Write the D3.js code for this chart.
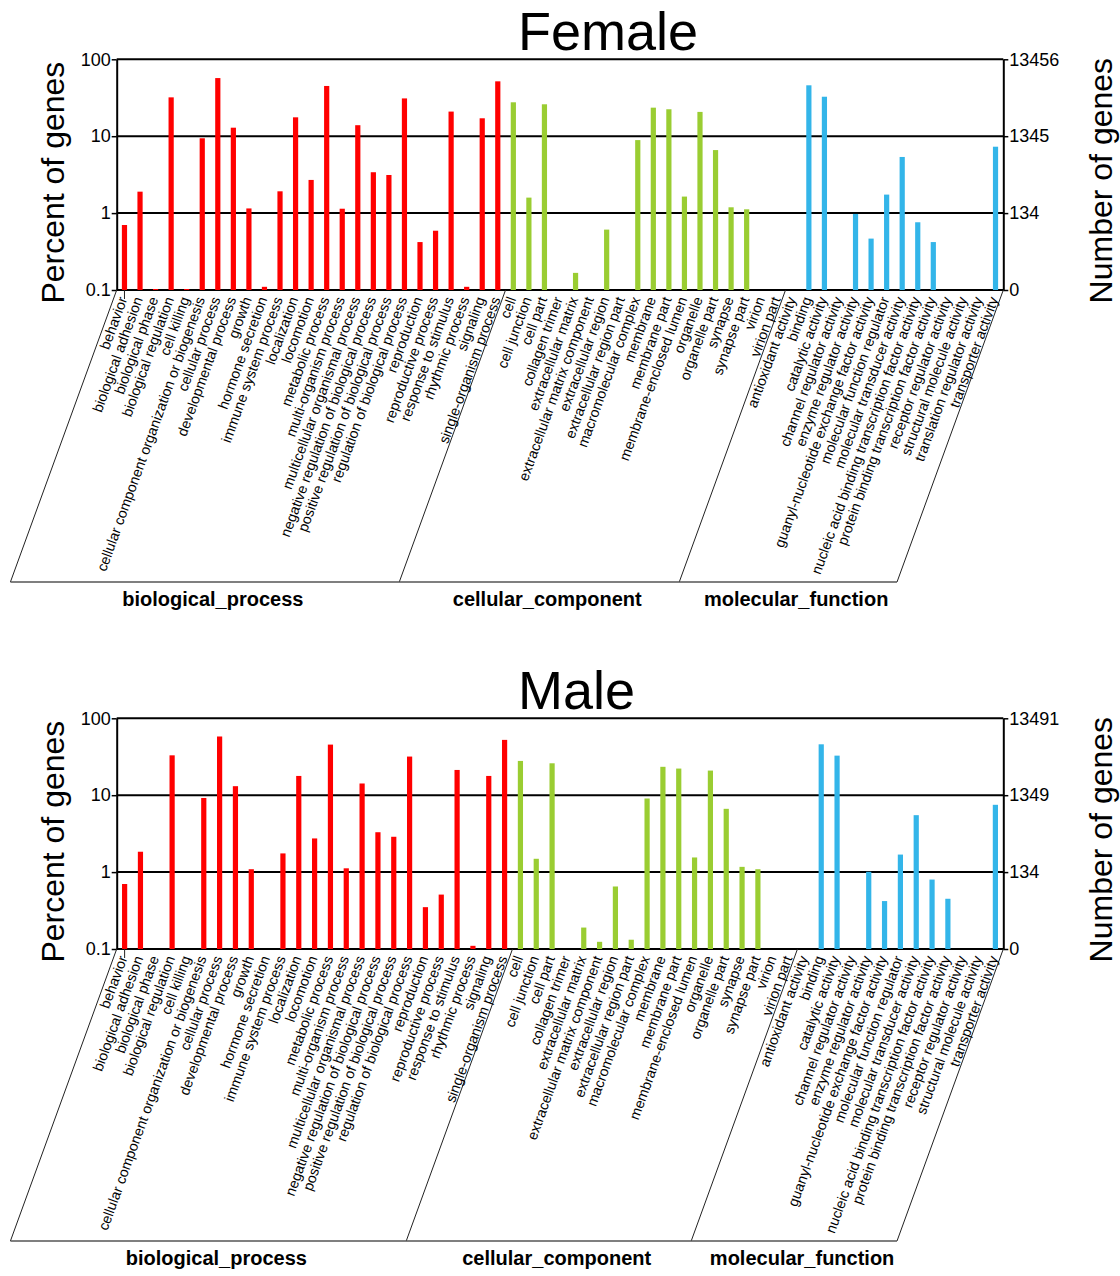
<!DOCTYPE html>
<html><head><meta charset="utf-8">
<script src="https://cdn.jsdelivr.net/npm/d3@7"></script>
<style>
body{margin:0;background:#fff}
svg{display:block}
text{font-family:"Liberation Sans",Arial,Helvetica,sans-serif;fill:#000}
</style>
</head><body>
<svg id="chart" width="1120" height="1276"></svg>
<script>
// ---------------- DATA ----------------
const groupNames = ["biological_process", "cellular_component", "molecular_function"];
const groupColors = ["#ff0000", "#9acd32", "#33b5e9"];

const bpCategories = ["behavior","biological adhesion","biological phase","biological regulation","cell killing",
  "cellular component organization or biogenesis","cellular process","developmental process","growth",
  "hormone secretion","immune system process","localization","locomotion","metabolic process",
  "multi-organism process","multicellular organismal process","negative regulation of biological process",
  "positive regulation of biological process","regulation of biological process","reproduction",
  "reproductive process","response to stimulus","rhythmic process","signaling","single-organism process"];
const ccCategories = ["cell","cell junction","cell part","collagen trimer","extracellular matrix",
  "extracellular matrix component","extracellular region","extracellular region part","macromolecular complex",
  "membrane","membrane part","membrane-enclosed lumen","organelle","organelle part","synapse","synapse part",
  "virion","virion part"];
const mfCategoriesFemale = ["antioxidant activity","binding","catalytic activity","channel regulator activity",
  "enzyme regulator activity","guanyl-nucleotide exchange factor activity","molecular function regulator",
  "molecular transducer activity","nucleic acid binding transcription factor activity",
  "protein binding transcription factor activity","receptor regulator activity","structural molecule activity",
  "translation regulator activity","transporter activity"];
const mfCategoriesMale = ["antioxidant activity","binding","catalytic activity","channel regulator activity",
  "enzyme regulator activity","guanyl-nucleotide exchange factor activity","molecular function regulator",
  "molecular transducer activity","nucleic acid binding transcription factor activity",
  "protein binding transcription factor activity","receptor regulator activity","structural molecule activity",
  "transporter activity"];

// percent of genes (0 = no bar)
const femaleBP = [0.70,1.90,0.103,32,0.103,9.4,57,12.9,1.15,0.11,1.92,17.6,2.7,45,1.14,13.9,3.4,3.13,31,0.42,0.59,20.9,0.11,17.1,51.7];
const femaleCC = [27.6,1.59,26,0,0.167,0,0.61,0,8.9,23.5,22.4,1.64,20.7,6.6,1.19,1.12,0,0];
const femaleMF = [0,45.9,32.6,0,0.975,0.466,1.74,5.37,0.76,0.42,0,0,0,7.3];

const maleBP = [0.70,1.84,0,33,0,9.2,58,13.1,1.09,0,1.75,17.8,2.74,45.5,1.12,14.2,3.3,2.88,31.8,0.35,0.51,21.3,0.11,17.8,52.4];
const maleCC = [27.9,1.49,26,0,0.19,0.124,0.65,0.132,9.06,23.4,22.2,1.55,20.9,6.65,1.17,1.09,0,0];
const maleMF = [0,45.9,32.7,0,1.01,0.42,1.69,5.5,0.80,0.45,0,0,7.5];

const percentTicks = [0.1, 1, 10, 100];
const percentTickLabels = ["0.1", "1", "10", "100"];
const femaleCountLabels = ["0", "134", "1345", "13456"];
const maleCountLabels = ["0", "134", "1349", "13491"];

const titles = ["Female", "Male"];

// ---------------- LAYOUT ----------------
const L = 116.7, R = 1003.3, T = 59.3, B = 290;
const labelDepth = 292;           // height of label band below axis
const angle = 70;                 // slant of labels / separators
const shear = -labelDepth / Math.tan(angle * Math.PI / 180);
const panelOffset = 659;

const svg = d3.select("#chart");

function drawPanel(idx, cats, vals, countLabels) {
  const g = svg.append("g").attr("transform", `translate(0,${idx * panelOffset})`);
  const items = [];
  cats.forEach((list, gi) => list.forEach((c, i) => items.push({cat: c, v: vals[gi][i], gi})));

  const x = d3.scaleBand().domain(items.map(d => d.cat)).range([L, R]).padding(0);
  const y = d3.scaleLog().domain([0.1, 100]).range([B, T]);
  const bw = x.bandwidth();

  // title
  g.append("text").attr("x", 518).attr("y", B - 240)
    .attr("font-size", 54).text(titles[idx]);

  // grid lines
  g.append("g").selectAll("line").data(percentTicks).join("line")
    .attr("x1", L).attr("x2", R).attr("y1", d => y(d)).attr("y2", d => y(d))
    .attr("stroke", "#000").attr("stroke-width", 2);

  // bars
  g.append("g").selectAll("rect").data(items.filter(d => d.v > 0)).join("rect")
    .attr("x", d => x(d.cat) + bw / 2 - 2.6)
    .attr("width", 5.2)
    .attr("y", d => y(d.v))
    .attr("height", d => B - y(d.v))
    .attr("fill", d => groupColors[d.gi]);

  // left axis
  const la = g.append("g").attr("transform", `translate(${L},0)`)
    .call(d3.axisLeft(y).tickValues(percentTicks).tickFormat((d, i) => percentTickLabels[i])
      .tickSize(5).tickSizeOuter(0).tickPadding(1));
  // right axis
  const ra = g.append("g").attr("transform", `translate(${R},0)`)
    .call(d3.axisRight(y).tickValues(percentTicks).tickFormat((d, i) => countLabels[i])
      .tickSize(5).tickSizeOuter(0).tickPadding(1));
  [la, ra].forEach(a => {
    a.select(".domain").attr("stroke", "#000").attr("stroke-width", 2);
    a.selectAll(".tick line").attr("stroke", "#000").attr("stroke-width", 1.5);
    a.selectAll(".tick text").attr("font-size", 18).attr("font-family", "Liberation Sans, Arial, sans-serif").attr("fill", "#000");
  });

  // axis titles
  g.append("text").attr("transform", `translate(64,${(T + B) / 2 + 8}) rotate(-90)`)
    .attr("text-anchor", "middle").attr("font-size", 32).text("Percent of genes");
  g.append("text").attr("transform", `translate(1112,${(T + B) / 2 + 6}) rotate(-90)`)
    .attr("text-anchor", "middle").attr("font-size", 32).text("Number of genes");

  // label band: separators
  const bounds = [L];
  let acc = 0;
  cats.forEach(list => { acc += list.length; bounds.push(x(items[acc - 1].cat) + bw); });
  const yb = B + labelDepth;
  g.append("g").selectAll("line").data(bounds).join("line")
    .attr("x1", d => d).attr("y1", B).attr("x2", d => d + shear).attr("y2", yb)
    .attr("stroke", "#222").attr("stroke-width", 1);
  g.append("line").attr("x1", L + shear).attr("x2", R + shear).attr("y1", yb).attr("y2", yb)
    .attr("stroke", "#555").attr("stroke-width", 1.5);
  // small tick under first category
  g.append("line").attr("x1", x(items[0].cat) + bw / 2).attr("x2", x(items[0].cat) + bw / 2)
    .attr("y1", B).attr("y2", B + 9).attr("stroke", "#222").attr("stroke-width", 1);

  // category labels
  g.append("g").selectAll("text").data(items).join("text")
    .attr("transform", d => `translate(${x(d.cat) + bw / 2 + 3},${B + 9}) rotate(${-angle})`)
    .attr("text-anchor", "end").attr("font-size", 14.3).text(d => d.cat);

  // group labels
  g.append("g").selectAll("text").data(groupNames).join("text")
    .attr("x", (d, i) => (bounds[i] + bounds[i + 1]) / 2 + shear + 8)
    .attr("y", yb + 24)
    .attr("text-anchor", "middle").attr("font-size", 20).attr("font-weight", "bold")
    .text(d => d);
}

drawPanel(0, [bpCategories, ccCategories, mfCategoriesFemale], [femaleBP, femaleCC, femaleMF], femaleCountLabels);
drawPanel(1, [bpCategories, ccCategories, mfCategoriesMale], [maleBP, maleCC, maleMF], maleCountLabels);
</script>
</body></html>
